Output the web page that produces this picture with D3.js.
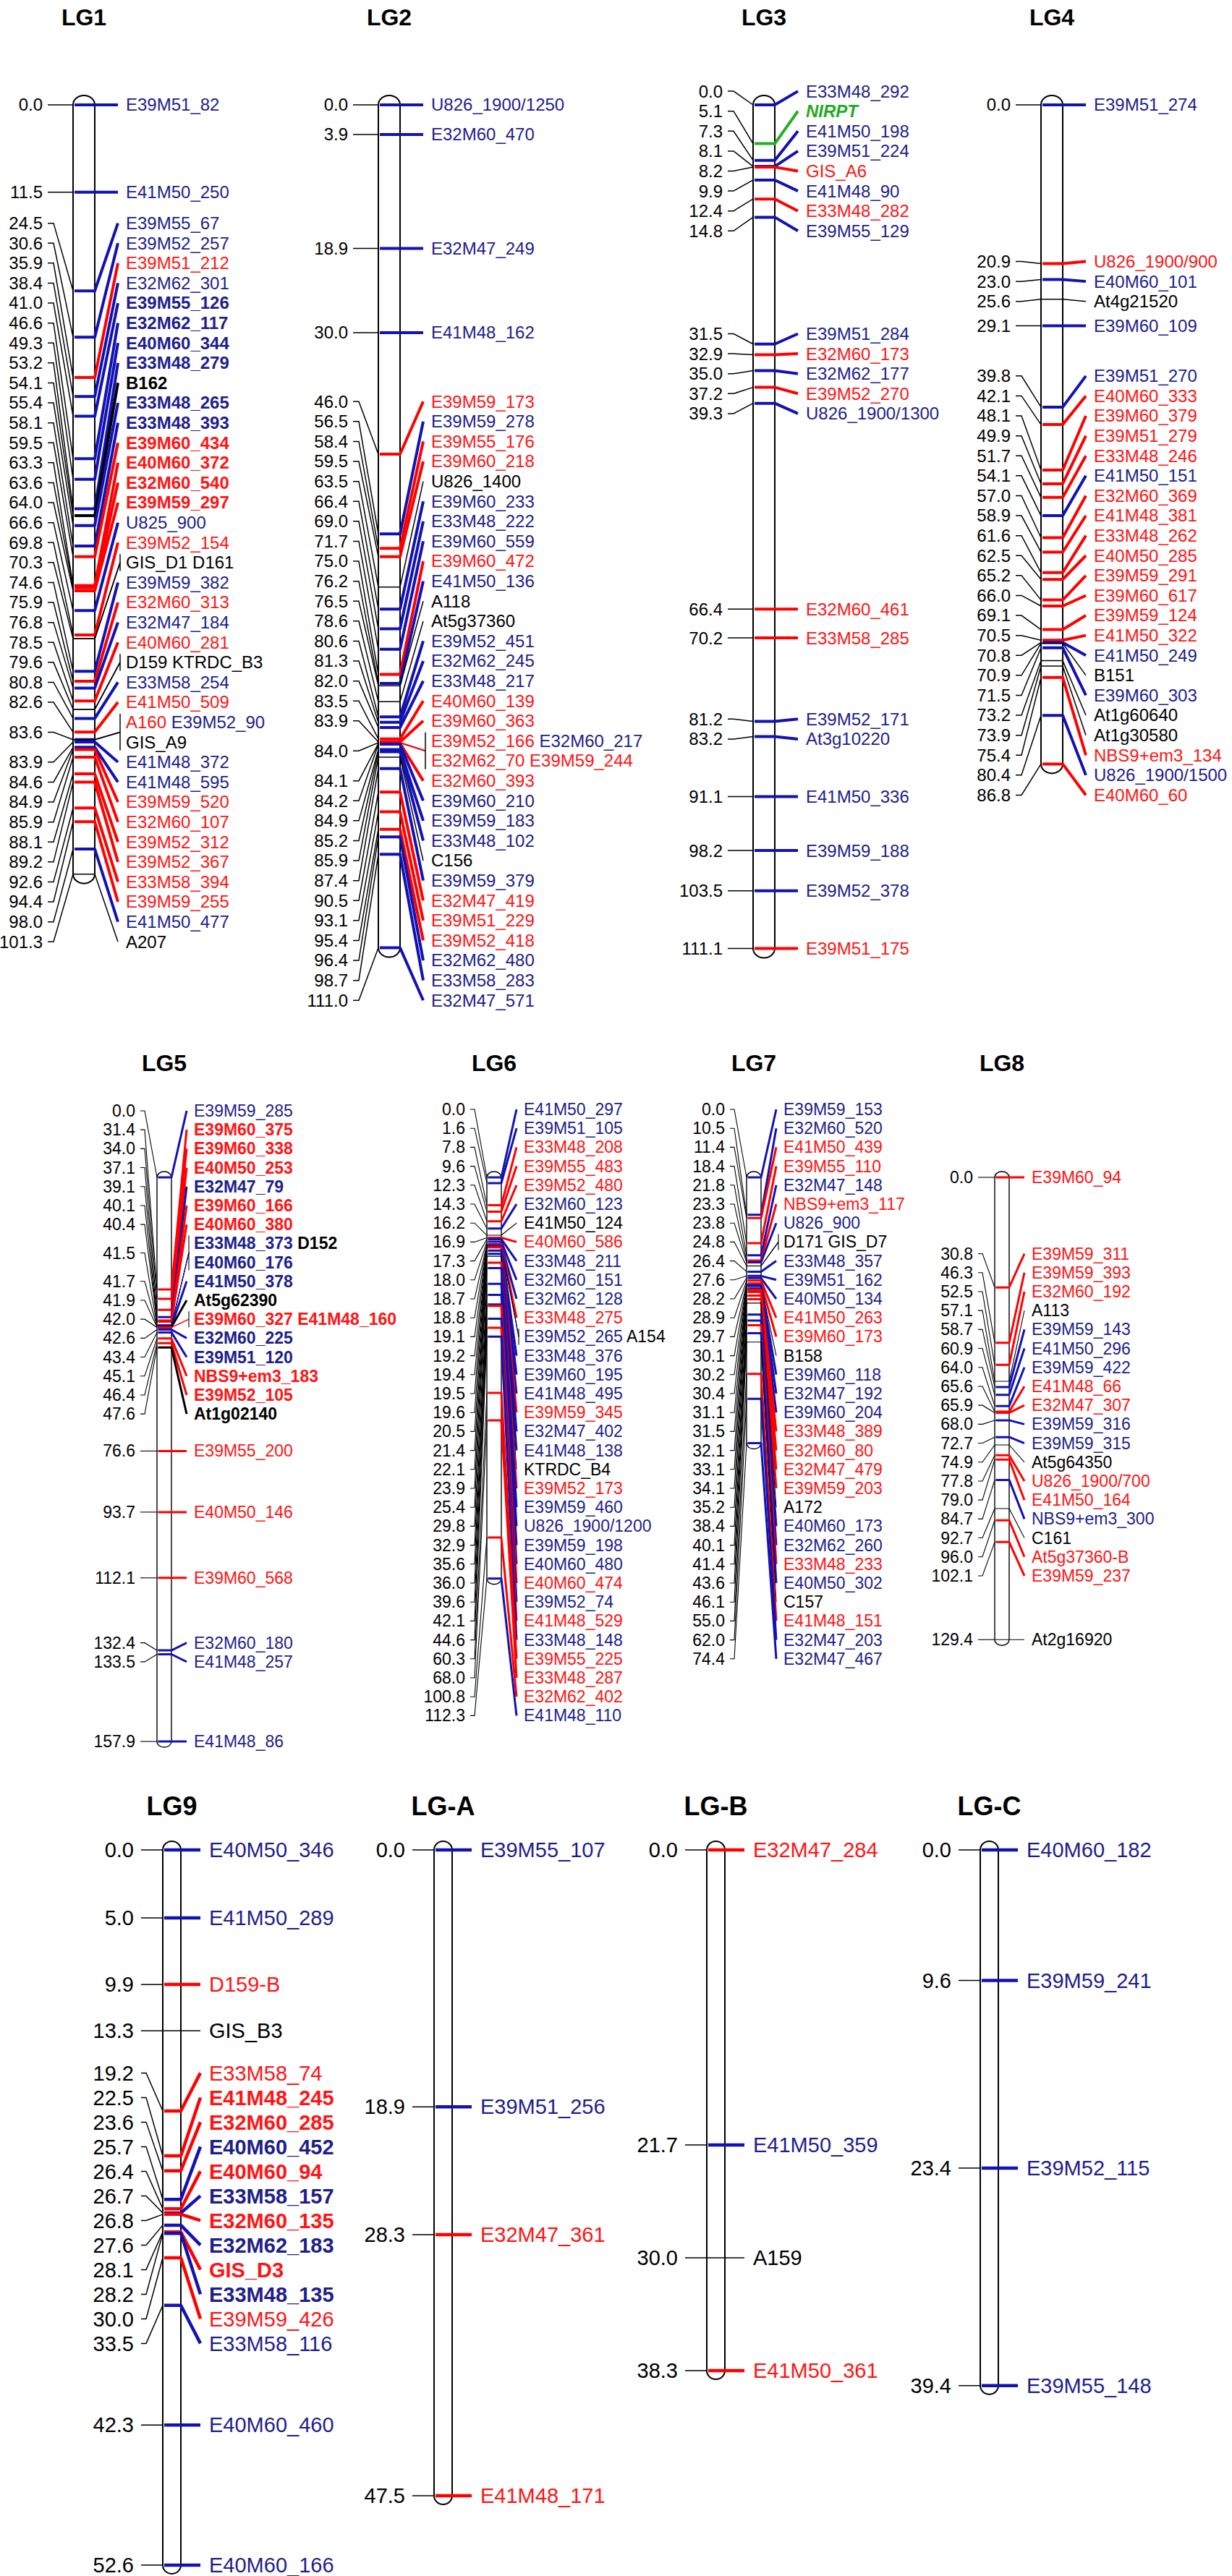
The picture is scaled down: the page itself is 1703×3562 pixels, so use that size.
<!DOCTYPE html>
<html><head><meta charset="utf-8">
<script src="https://cdn.jsdelivr.net/npm/d3@7"></script>
<style>
body{margin:0;background:#fff}
svg{display:block}
text{font-family:"Liberation Sans",Arial,Helvetica,sans-serif}
</style>
</head><body>
<svg id="c" width="1703" height="3562"></svg>
<script>
// ---------------- DATA (positions in cM, marker names, type codes) ----------------
// type codes: r=red, b=blue, k=black, g=green italic; uppercase = bold.
// "|" separates label lines of one locus, " " separates markers on one line.
const LG1_cM = [0.0, 11.5, 24.5, 30.6, 35.9, 38.4, 41.0, 46.6, 49.3, 53.2, 54.1, 55.4, 58.1, 59.5, 63.3, 63.6, 64.0, 66.6, 69.8, 70.3, 74.6, 75.9, 76.8, 78.5, 79.6, 80.8, 82.6, 83.6, 83.9, 84.6, 84.9, 85.9, 88.1, 89.2, 92.6, 94.4, 98.0, 101.3];
const LG1_markers = ["E39M51_82","E41M50_250","E39M55_67","E39M52_257","E39M51_212","E32M62_301","E39M55_126","E32M62_117","E40M60_344","E33M48_279","B162","E33M48_265","E33M48_393","E39M60_434","E40M60_372","E32M60_540","E39M59_297","U825_900","E39M52_154","GIS_D1 D161","E39M59_382","E32M60_313","E32M47_184","E40M60_281","D159 KTRDC_B3","E33M58_254","E41M50_509","A160 E39M52_90|GIS_A9","E41M48_372","E41M48_595","E39M59_520","E32M60_107","E39M52_312","E39M52_367","E33M58_394","E39M59_255","E41M50_477","A207"];
const LG1_types = ["b","b","b","b","r","b","B","B","B","B","K","B","B","R","R","R","R","b","r","k k","b","r","b","r","k k","b","r","r b|k","b","b","r","r","r","r","r","r","b","k"];

const LG2_cM = [0.0, 3.9, 18.9, 30.0, 46.0, 56.5, 58.4, 59.5, 63.5, 66.4, 69.0, 71.7, 75.0, 76.2, 76.5, 78.6, 80.6, 81.3, 82.0, 83.5, 83.9, 84.0, 84.1, 84.2, 84.9, 85.2, 85.9, 87.4, 90.5, 93.1, 95.4, 96.4, 98.7, 111.0];
const LG2_markers = ["U826_1900/1250","E32M60_470","E32M47_249","E41M48_162","E39M59_173","E39M59_278","E39M55_176","E39M60_218","U826_1400","E39M60_233","E33M48_222","E39M60_559","E39M60_472","E41M50_136","A118","At5g37360","E39M52_451","E32M62_245","E33M48_217","E40M60_139","E39M60_363","E39M52_166 E32M60_217|E32M62_70 E39M59_244","E32M60_393","E39M60_210","E39M59_183","E33M48_102","C156","E39M59_379","E32M47_419","E39M51_229","E39M52_418","E32M62_480","E33M58_283","E32M47_571"];
const LG2_types = ["b","b","b","b","r","b","r","r","k","b","b","b","r","b","k","k","b","b","b","r","r","r b|r r","r","b","b","b","k","b","r","r","r","b","b","b"];

const LG3_cM = [0.0, 5.1, 7.3, 8.1, 8.2, 9.9, 12.4, 14.8, 31.5, 32.9, 35.0, 37.2, 39.3, 66.4, 70.2, 81.2, 83.2, 91.1, 98.2, 103.5, 111.1];
const LG3_markers = ["E33M48_292","NIRPT","E41M50_198","E39M51_224","GIS_A6","E41M48_90","E33M48_282","E39M55_129","E39M51_284","E32M60_173","E32M62_177","E39M52_270","U826_1900/1300","E32M60_461","E33M58_285","E39M52_171","At3g10220","E41M50_336","E39M59_188","E39M52_378","E39M51_175"];
const LG3_types = ["b","g","b","b","r","b","r","b","b","r","b","r","b","r","r","b","b","b","b","b","r"];

const LG4_cM = [0.0, 20.9, 23.0, 25.6, 29.1, 39.8, 42.1, 48.1, 49.9, 51.7, 54.1, 57.0, 58.9, 61.6, 62.5, 65.2, 66.0, 69.1, 70.5, 70.8, 70.9, 71.5, 73.2, 73.9, 75.4, 80.4, 86.8];
const LG4_markers = ["E39M51_274","U826_1900/900","E40M60_101","At4g21520","E39M60_109","E39M51_270","E40M60_333","E39M60_379","E39M51_279","E33M48_246","E41M50_151","E32M60_369","E41M48_381","E33M48_262","E40M50_285","E39M59_291","E39M60_617","E39M59_124","E41M50_322","E41M50_249","B151","E39M60_303","At1g60640","At1g30580","NBS9+em3_134","U826_1900/1500","E40M60_60"];
const LG4_types = ["b","r","b","k","b","b","r","r","r","r","b","r","r","r","r","r","r","r","r","b","k","b","k","k","r","b","r"];

const LG5_cM = [0.0, 31.4, 34.0, 37.1, 39.1, 40.1, 40.4, 41.5, 41.7, 41.9, 42.0, 42.6, 43.4, 45.1, 46.4, 47.6, 76.6, 93.7, 112.1, 132.4, 133.5, 157.9];
const LG5_markers = ["E39M59_285","E39M60_375","E39M60_338","E40M50_253","E32M47_79","E39M60_166","E40M60_380","E33M48_373 D152|E40M60_176","E41M50_378","At5g62390","E39M60_327 E41M48_160","E32M60_225","E39M51_120","NBS9+em3_183","E39M52_105","At1g02140","E39M55_200","E40M50_146","E39M60_568","E32M60_180","E41M48_257","E41M48_86"];
const LG5_types = ["b","R","R","R","B","R","R","B K|B","B","K","R R","B","B","R","R","K","r","r","r","b","b","b"];

const LG6_cM = [0.0, 1.6, 7.8, 9.6, 12.3, 14.3, 16.2, 16.9, 17.3, 18.0, 18.7, 18.8, 19.1, 19.2, 19.4, 19.5, 19.6, 20.5, 21.4, 22.1, 23.9, 25.4, 29.8, 32.9, 35.6, 36.0, 39.6, 42.1, 44.6, 60.3, 68.0, 100.8, 112.3];
const LG6_markers = ["E41M50_297","E39M51_105","E33M48_208","E39M55_483","E39M52_480","E32M60_123","E41M50_124","E40M60_586","E33M48_211","E32M60_151","E32M62_128","E33M48_275","E39M52_265 A154","E33M48_376","E39M60_195","E41M48_495","E39M59_345","E32M47_402","E41M48_138","KTRDC_B4","E39M52_173","E39M59_460","U826_1900/1200","E39M59_198","E40M60_480","E40M60_474","E39M52_74","E41M48_529","E33M48_148","E39M55_225","E33M48_287","E32M62_402","E41M48_110"];
const LG6_types = ["b","b","r","r","r","b","k","r","b","b","b","r","b k","b","b","b","r","b","b","k","r","b","b","b","b","r","b","r","b","r","r","r","b"];

const LG7_cM = [0.0, 10.5, 11.4, 18.4, 21.8, 23.3, 23.8, 24.8, 26.4, 27.6, 28.2, 28.9, 29.7, 30.1, 30.2, 30.4, 31.1, 31.5, 32.1, 33.1, 34.1, 35.2, 38.4, 40.1, 41.4, 43.6, 46.1, 55.0, 62.0, 74.4];
const LG7_markers = ["E39M59_153","E32M60_520","E41M50_439","E39M55_110","E32M47_148","NBS9+em3_117","U826_900","D171 GIS_D7","E33M48_357","E39M51_162","E40M50_134","E41M50_263","E39M60_173","B158","E39M60_118","E32M47_192","E39M60_204","E33M48_389","E32M60_80","E32M47_479","E39M59_203","A172","E40M60_173","E32M62_260","E33M48_233","E40M50_302","C157","E41M48_151","E32M47_203","E32M47_467"];
const LG7_types = ["b","b","r","r","b","r","b","k k","b","b","b","r","r","k","b","b","b","r","r","r","r","k","b","b","r","b","k","r","b","b"];

const LG8_cM = [0.0, 30.8, 46.3, 52.5, 57.1, 58.7, 60.9, 64.0, 65.6, 65.9, 68.0, 72.7, 74.9, 77.8, 79.0, 84.7, 92.7, 96.0, 102.1, 129.4];
const LG8_markers = ["E39M60_94","E39M59_311","E39M59_393","E32M60_192","A113","E39M59_143","E41M50_296","E39M59_422","E41M48_66","E32M47_307","E39M59_316","E39M59_315","At5g64350","U826_1900/700","E41M50_164","NBS9+em3_300","C161","At5g37360-B","E39M59_237","At2g16920"];
const LG8_types = ["r","r","r","r","k","b","b","b","r","r","b","b","k","r","r","b","k","r","r","k"];

const LG9_cM = [0.0, 5.0, 9.9, 13.3, 19.2, 22.5, 23.6, 25.7, 26.4, 26.7, 26.8, 27.6, 28.1, 28.2, 30.0, 33.5, 42.3, 52.6];
const LG9_markers = ["E40M50_346","E41M50_289","D159-B","GIS_B3","E33M58_74","E41M48_245","E32M60_285","E40M60_452","E40M60_94","E33M58_157","E32M60_135","E32M62_183","GIS_D3","E33M48_135","E39M59_426","E33M58_116","E40M60_460","E40M60_166"];
const LG9_types = ["b","b","r","k","r","R","R","B","R","B","R","B","R","B","r","b","b","b"];

const LGA_cM = [0.0, 18.9, 28.3, 47.5];
const LGA_markers = ["E39M55_107","E39M51_256","E32M47_361","E41M48_171"];
const LGA_types = ["b","b","r","r"];

const LGB_cM = [0.0, 21.7, 30.0, 38.3];
const LGB_markers = ["E32M47_284","E41M50_359","A159","E41M50_361"];
const LGB_types = ["r","b","k","r"];

const LGC_cM = [0.0, 9.6, 23.4, 39.4];
const LGC_markers = ["E40M60_182","E39M59_241","E39M52_115","E39M55_148"];
const LGC_types = ["b","b","b","b"];

// ---------------- STYLE / LAYOUT ----------------
const COL = {
  r: {text:"#ff1414", line:"#ff0000"},
  b: {text:"#1e1e8c", line:"#1212b4"},
  k: {text:"#000000", line:"#000000"},
  g: {text:"#22aa22", line:"#22b022"}
};
const ROW = {
  r1: {scale:10.5, y0:145, s:27.6, font:24, thick:4, thin:1.5, barW:30, cap:13, titleY:24, titleFont:32, bound:88, numGap:42, stubA:7, stubB:15, conn:32, text:43, outline:2},
  r2: {scale:4.94, y0:1628, s:26.2, font:23, thick:3, thin:1.1, barW:20, cap:8, titleY:1470, titleFont:32, bound:1534, numGap:30, stubA:7, stubB:13, conn:21, text:31, outline:1.4},
  r3: {scale:18.8, y0:2558, s:34, font:29, thick:4.5, thin:1.5, barW:25, cap:12, titleY:2497, titleFont:36, bound:2540, numGap:40, stubA:10, stubB:17, conn:27, text:39, outline:2}
};
const MAPS = [
  {name:"LG1", cM:LG1_cM, mk:LG1_markers, ty:LG1_types, row:"r1", barL:101},
  {name:"LG2", cM:LG2_cM, mk:LG2_markers, ty:LG2_types, row:"r1", barL:523},
  {name:"LG3", cM:LG3_cM, mk:LG3_markers, ty:LG3_types, row:"r1", barL:1041},
  {name:"LG4", cM:LG4_cM, mk:LG4_markers, ty:LG4_types, row:"r1", barL:1439},
  {name:"LG5", cM:LG5_cM, mk:LG5_markers, ty:LG5_types, row:"r2", barL:217},
  {name:"LG6", cM:LG6_cM, mk:LG6_markers, ty:LG6_types, row:"r2", barL:673},
  {name:"LG7", cM:LG7_cM, mk:LG7_markers, ty:LG7_types, row:"r2", barL:1032},
  {name:"LG8", cM:LG8_cM, mk:LG8_markers, ty:LG8_types, row:"r2", barL:1375},
  {name:"LG9", cM:LG9_cM, mk:LG9_markers, ty:LG9_types, row:"r3", barL:225},
  {name:"LG-A", cM:LGA_cM, mk:LGA_markers, ty:LGA_types, row:"r3", barL:600},
  {name:"LG-B", cM:LGB_cM, mk:LGB_markers, ty:LGB_types, row:"r3", barL:977},
  {name:"LG-C", cM:LGC_cM, mk:LGC_markers, ty:LGC_types, row:"r3", barL:1355}
];

const svg = d3.select("#c");
svg.append("rect").attr("width",1703).attr("height",3562).attr("fill","#fff");

function sty(t){
  const c = t.toLowerCase();
  return {c, text:COL[c].text, line:COL[c].line, bold:(t!==c)||c==="g", italic:c==="g"};
}

function drawMap(m){
  const cfg = ROW[m.row];
  const g = svg.append("g").attr("class","map");
  const maxV = d3.max(m.cM);
  const y = d3.scaleLinear().domain([0,maxV]).range([cfg.y0, cfg.y0 + maxV*cfg.scale]);
  const barL = m.barL, barR = m.barL + cfg.barW, s = cfg.s;

  // build groups and rows
  const groups = m.cM.map((v,i)=>{
    const lines = m.mk[i].split("|"), tl = m.ty[i].split("|");
    const rows = lines.map((l,j)=>{
      const names = l.split(" "), ts = tl[j].split(" ");
      return names.map((n,k)=>({name:n, st:sty(ts[k])}));
    });
    return {v, d:y(v), rows, items:rows.flat()};
  });
  const rowList = [];
  groups.forEach((gr,gi)=>gr.rows.forEach(r=>{ rowList.push({gi, d:gr.d, items:r}); }));

  // label spreading: clusters centred on midpoint of first/last desired positions
  let cl = []; let idx = 0;
  groups.forEach(gr=>{ cl.push({a:idx, b:idx+gr.rows.length-1}); idx += gr.rows.length; });
  const place = c=>{ const top = (rowList[c.a].d + rowList[c.b].d)/2 - (c.b-c.a)*s/2; c.top = Math.max(top, cfg.bound); };
  cl.forEach(place);
  let changed = true, guard = 0;
  while(changed && guard++ < 10000){
    changed = false;
    for(let i=0;i<cl.length-1;i++){
      const c = cl[i], n = cl[i+1];
      if(n.top < c.top + (c.b-c.a+1)*s - 0.01){
        const mm = {a:c.a, b:n.b}; place(mm); cl.splice(i,2,mm); changed = true; break;
      }
    }
  }
  cl.forEach(c=>{ for(let i=c.a;i<=c.b;i++) rowList[i].y = c.top + (i-c.a)*s; });
  groups.forEach((gr,gi)=>{
    const rs = rowList.filter(r=>r.gi===gi);
    gr.rowsY = rs.map(r=>r.y);
    gr.cy = d3.mean(gr.rowsY);
  });

  // title
  g.append("text").attr("x", barL + cfg.barW/2).attr("y", cfg.titleY).attr("dy","0.35em")
    .attr("text-anchor","middle").attr("font-weight","bold").attr("font-size",cfg.titleFont)
    .attr("fill","#000").text(m.name);

  // chromosome bar
  const y0 = y(0), y1 = y(maxV), rx = cfg.barW/2;
  g.append("path")
    .attr("d",`M${barL},${y0} L${barL},${y1} A${rx},${cfg.cap} 0 0 0 ${barR},${y1} L${barR},${y0} A${rx},${cfg.cap} 0 0 0 ${barL},${y0} Z`)
    .attr("fill","#fff").attr("stroke","#000").attr("stroke-width",cfg.outline);

  const numR = barL - cfg.numGap;
  const connX = barR + cfg.conn;
  const textX = barR + cfg.text;

  // left: positions + connectors
  groups.forEach(gr=>{
    g.append("path")
      .attr("d",`M${numR+cfg.stubA},${gr.cy} L${numR+cfg.stubB},${gr.cy} L${barL},${gr.d}`)
      .attr("fill","none").attr("stroke","#000").attr("stroke-width",cfg.thin);
    g.append("text").attr("x",numR).attr("y",gr.cy).attr("dy","0.35em")
      .attr("text-anchor","end").attr("font-size",cfg.font).attr("fill","#000")
      .text(gr.v.toFixed(1));
  });

  // in-bar marker lines and right connectors
  const lineW = st => (st.c==="k" && !st.bold) ? cfg.thin : cfg.thick;
  groups.forEach(gr=>{
    gr.items.forEach(it=>{
      const w = lineW(it.st);
      const xa = (w===cfg.thin) ? barL : barL + cfg.outline;
      if(gr.items.length===1){
        g.append("path")
          .attr("d",`M${xa},${gr.d} L${barR},${gr.d} L${connX},${gr.rowsY[0]}`)
          .attr("fill","none").attr("stroke",it.st.line).attr("stroke-width",w)
          .attr("stroke-linejoin","round");
      } else {
        g.append("line").attr("x1",xa).attr("x2",barR).attr("y1",gr.d).attr("y2",gr.d)
          .attr("stroke",it.st.line).attr("stroke-width",w);
      }
    });
    if(gr.items.length>1){
      const bx = connX + 3;
      gr.items.forEach(it=>{
        g.append("line").attr("x1",barR).attr("y1",gr.d).attr("x2",bx).attr("y2",gr.cy)
          .attr("stroke",it.st.line).attr("stroke-width",cfg.thin);
      });
      g.append("line").attr("x1",bx).attr("x2",bx)
        .attr("y1", gr.rowsY[0] - s*0.42).attr("y2", gr.rowsY[gr.rowsY.length-1] + s*0.42)
        .attr("stroke","#000").attr("stroke-width",cfg.thin);
    }
  });

  // right: marker names
  groups.forEach(gr=>{
    gr.rows.forEach((r,j)=>{
      const t = g.append("text").attr("x",textX).attr("y",gr.rowsY[j]).attr("dy","0.35em")
        .attr("font-size",cfg.font);
      r.forEach((it,k)=>{
        t.append("tspan").attr("fill",it.st.text)
          .attr("font-weight", it.st.bold ? "bold" : "normal")
          .attr("font-style", it.st.italic ? "italic" : "normal")
          .text(it.name + (k<r.length-1 ? " " : ""));
      });
    });
  });
}

MAPS.forEach(drawMap);
</script>
</body></html>
